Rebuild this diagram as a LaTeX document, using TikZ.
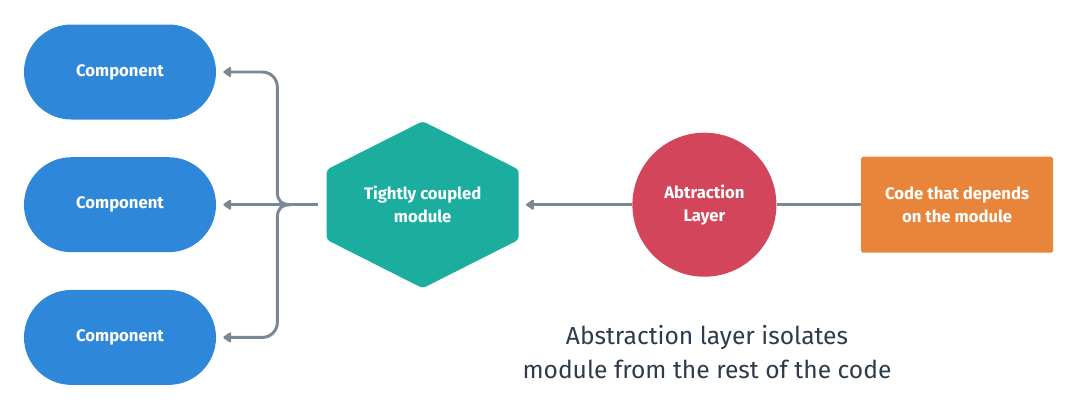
\documentclass[tikz,border=0pt]{standalone}
\usepackage{fontspec}
\setmainfont{Fira Sans}
\usetikzlibrary{positioning, arrows.meta, calc, shapes.misc}
\definecolor{colorlink}{HTML}{7B8794}
\definecolor{colorcomp}{HTML}{2E87D8}
\definecolor{colormod}{HTML}{1BAE9E}
\definecolor{colorabs}{HTML}{D3455B}
\definecolor{colorcode}{HTML}{E8853B}
\definecolor{colornote}{HTML}{2D3B4A}

\begin{document}
\begin{tikzpicture}[
    % spacing between the stacked components
    node distance=0.74cm and 2.2cm,
    % white bold label used by all coloured shapes
    label/.style={
        align=center,
        text=white,
        inner sep=0pt,
        font=\fontsize{9.5}{13}\selectfont\bfseries
    },
    % blue pill for each component
    comp/.style={
        label,
        rounded rectangle,
        fill=colorcomp,
        minimum width=3.84cm,
        minimum height=1.9cm
    },
    % teal hexagon, stretched sideways
    hexbox/.style={
        label,
        rectangle,
        minimum width=3.84cm,
        minimum height=3.34cm,
        path picture={
            \fill[colormod, rounded corners=2pt]
                (path picture bounding box.north)
                -- ($(path picture bounding box.north east)!0.29!(path picture bounding box.south east)$)
                -- ($(path picture bounding box.north east)!0.71!(path picture bounding box.south east)$)
                -- (path picture bounding box.south)
                -- ($(path picture bounding box.north west)!0.71!(path picture bounding box.south west)$)
                -- ($(path picture bounding box.north west)!0.29!(path picture bounding box.south west)$)
                -- cycle;
        }
    },
    % red round abstraction layer
    layer/.style={
        label,
        circle,
        fill=colorabs,
        minimum size=2.88cm
    },
    % orange box for the dependent code
    codebox/.style={
        label,
        rectangle,
        rounded corners=1pt,
        fill=colorcode,
        minimum width=3.84cm,
        minimum height=1.92cm
    },
    % plain grey connector
    link/.style={
        colorlink,
        line width=1.7pt
    },
    % grey connector with a small head
    arrow/.style={
        link,
        -{Triangle[length=5pt, width=6.5pt, round]},
        shorten >=0.14cm
    }
]

\useasboundingbox (0,0) rectangle (21.5,-8.16);

% ==============================
% Left column: components
% ==============================
\node[comp] (comp1) at (2.4,-1.44) {Component};
\node[comp, below=of comp1] (comp2) {Component};
\node[comp, below=of comp2] (comp3) {Component};

% ==============================
% Middle row
% ==============================
\node[hexbox, right=of comp2] (mod) {Tightly coupled\\module};
\node[layer, right=2.26cm of mod] (abs) {Abtraction\\Layer};
\node[codebox, right=1.68cm of abs] (code) {Code that depends\\on the module};

% ==============================
% Caption
% ==============================
\node[align=center, text=colornote, font=\fontsize{14}{19.8}\selectfont]
    (note) at (14.14,-7.04) {Abstraction layer isolates\\module from the rest of the code};

% ==============================
% Connectors
% ==============================
\coordinate (hub) at ($(mod.west)+(-0.72,0)$);

\draw[arrow, shorten <=0.16cm] (mod.west) -- (comp2.east);
\draw[arrow] (hub) .. controls +(-0.18,0) and +(0,-0.18) .. ++(-0.26,0.26)
    [rounded corners=0.3cm] |- (comp1.east);
\draw[arrow] (hub) .. controls +(-0.18,0) and +(0,0.18) .. ++(-0.26,-0.26)
    [rounded corners=0.3cm] |- (comp3.east);

\draw[arrow] (abs) -- (mod);
\draw[link] (abs) -- (code);

\end{tikzpicture}
\end{document}
